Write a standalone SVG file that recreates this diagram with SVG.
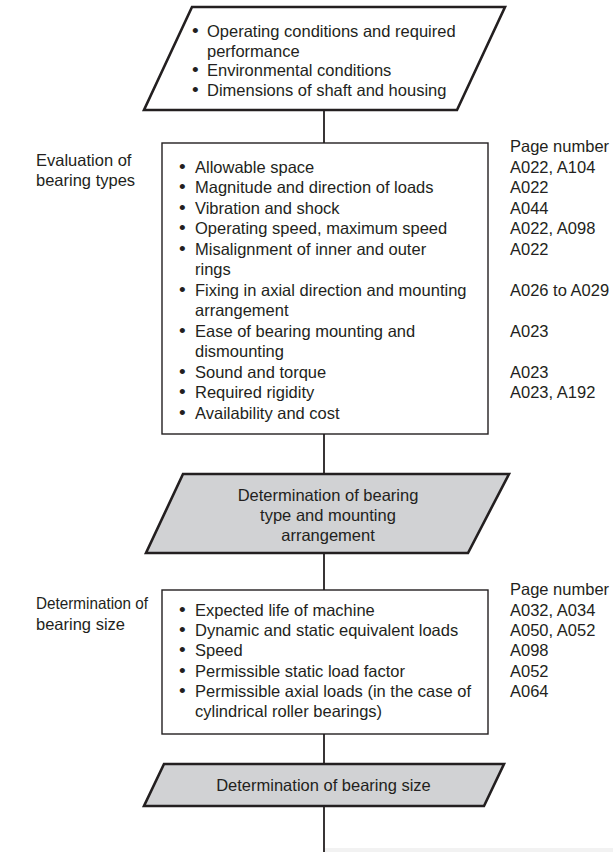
<svg xmlns="http://www.w3.org/2000/svg" width="613" height="852" viewBox="0 0 613 852">
<style>
text{font-family:"Liberation Sans",Arial,sans-serif;font-size:16.5px;fill:#231f20}
.c{text-anchor:middle}
.b{font-size:19px}
.para{fill:#fff;stroke:#231f20;stroke-width:2.6;stroke-linejoin:miter}
.gray{fill:#d1d2d4}
.box{fill:#fff;stroke:#231f20;stroke-width:1.4}
.conn line{stroke:#231f20;stroke-width:1.8}
</style>
<rect x="0" y="0" width="613" height="852" fill="#fff"/>
<rect x="324" y="848" width="289" height="4" fill="#f2f2f2"/>
<g class="conn" id="connectors">
<line x1="324" y1="110" x2="324" y2="143"/>
<line x1="324" y1="434" x2="324" y2="474"/>
<line x1="324" y1="553" x2="324" y2="590"/>
<line x1="324" y1="734" x2="324" y2="764"/>
<line x1="324" y1="806" x2="324" y2="852"/>
</g>
<g id="input">
<polygon class="para" points="192,7 505,7 457,110 144,110"/>
<text y="37"><tspan x="192" class="b">•</tspan> <tspan x="207">Operating conditions and required</tspan></text>
<text x="207" y="56.5">performance</text>
<text y="76"><tspan x="192" class="b">•</tspan> <tspan x="207">Environmental conditions</tspan></text>
<text y="95.5"><tspan x="192" class="b">•</tspan> <tspan x="207">Dimensions of shaft and housing</tspan></text>
</g>
<g id="eval-label">
<text x="36" y="165.5">Evaluation of</text>
<text x="36" y="186">bearing types</text>
</g>
<g id="eval-box">
<rect class="box" x="162" y="143" width="326" height="291"/>
<text y="172.5"><tspan x="179" class="b">•</tspan> <tspan x="195">Allowable space</tspan></text>
<text y="193"><tspan x="179" class="b">•</tspan> <tspan x="195">Magnitude and direction of loads</tspan></text>
<text y="213.5"><tspan x="179" class="b">•</tspan> <tspan x="195">Vibration and shock</tspan></text>
<text y="234"><tspan x="179" class="b">•</tspan> <tspan x="195">Operating speed, maximum speed</tspan></text>
<text y="254.5"><tspan x="179" class="b">•</tspan> <tspan x="195">Misalignment of inner and outer</tspan></text>
<text x="195" y="275">rings</text>
<text y="295.5"><tspan x="179" class="b">•</tspan> <tspan x="195">Fixing in axial direction and mounting</tspan></text>
<text x="195" y="316">arrangement</text>
<text y="336.5"><tspan x="179" class="b">•</tspan> <tspan x="195">Ease of bearing mounting and</tspan></text>
<text x="195" y="357">dismounting</text>
<text y="377.5"><tspan x="179" class="b">•</tspan> <tspan x="195">Sound and torque</tspan></text>
<text y="398"><tspan x="179" class="b">•</tspan> <tspan x="195">Required rigidity</tspan></text>
<text y="418.5"><tspan x="179" class="b">•</tspan> <tspan x="195">Availability and cost</tspan></text>
</g>
<g id="eval-pages">
<text x="510" y="152">Page number</text>
<text x="510" y="172.5">A022, A104</text>
<text x="510" y="193">A022</text>
<text x="510" y="213.5">A044</text>
<text x="510" y="234">A022, A098</text>
<text x="510" y="254.5">A022</text>
<text x="510" y="295.5">A026 to A029</text>
<text x="510" y="336.5">A023</text>
<text x="510" y="377.5">A023</text>
<text x="510" y="398">A023, A192</text>
</g>
<g id="type-result">
<polygon class="para gray" points="183,474 509,474 468,553 146,553"/>
<text class="c" x="328" y="501">Determination of bearing</text>
<text class="c" x="328" y="521">type and mounting</text>
<text class="c" x="328" y="541">arrangement</text>
</g>
<g id="size-label">
<text x="36" y="609" textLength="112" lengthAdjust="spacingAndGlyphs">Determination of</text>
<text x="36" y="630">bearing size</text>
</g>
<g id="size-box">
<rect class="box" x="162" y="590" width="326" height="144"/>
<text y="615.5"><tspan x="179" class="b">•</tspan> <tspan x="195">Expected life of machine</tspan></text>
<text y="636"><tspan x="179" class="b">•</tspan> <tspan x="195">Dynamic and static equivalent loads</tspan></text>
<text y="656"><tspan x="179" class="b">•</tspan> <tspan x="195">Speed</tspan></text>
<text y="676.5"><tspan x="179" class="b">•</tspan> <tspan x="195">Permissible static load factor</tspan></text>
<text y="697"><tspan x="179" class="b">•</tspan> <tspan x="195">Permissible axial loads (in the case of</tspan></text>
<text x="195" y="717">cylindrical roller bearings)</text>
</g>
<g id="size-pages">
<text x="510" y="595">Page number</text>
<text x="510" y="615.5">A032, A034</text>
<text x="510" y="636">A050, A052</text>
<text x="510" y="656">A098</text>
<text x="510" y="676.5">A052</text>
<text x="510" y="697">A064</text>
</g>
<g id="size-result">
<polygon class="para gray" points="164,764 504,764 484,806 144,806"/>
<text class="c" x="323.5" y="791">Determination of bearing size</text>
</g>
</svg>
